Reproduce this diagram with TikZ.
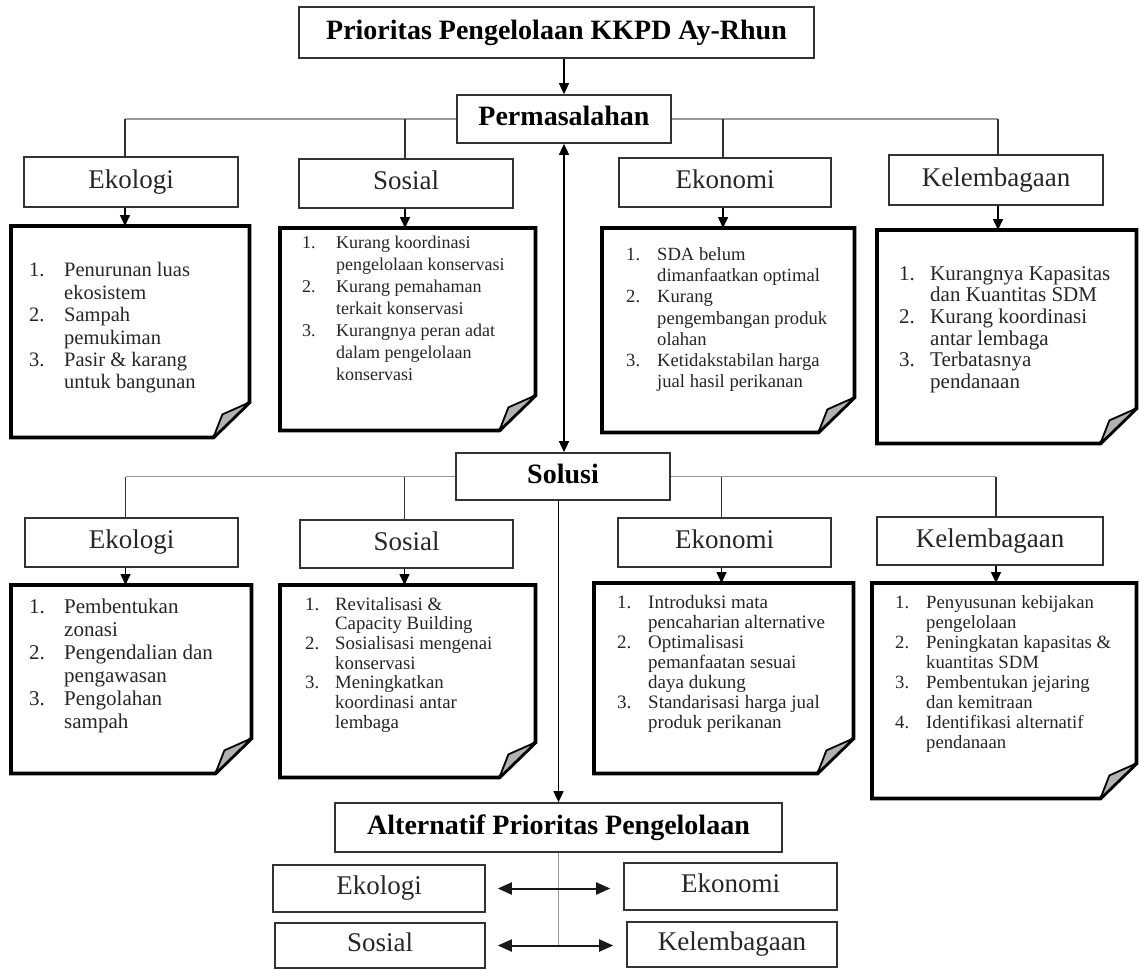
\documentclass[tikz,border=0pt]{standalone}
\usepackage{fontspec}
\setmainfont{Liberation Serif}
\usetikzlibrary{arrows.meta}
\newcommand{\foldnote}[1]{%
 \draw[noteframe] (#1.north west) -- (#1.north east) -- ([yshift=35pt]#1.south east) -- ([xshift=-36pt]#1.south east) -- (#1.south west) -- cycle;
 \draw[curl] ([xshift=-36pt]#1.south east) -- ([xshift=-27pt,yshift=23pt]#1.south east) -- ([yshift=35pt]#1.south east) -- cycle;}
\begin{document}
\begin{tikzpicture}[x=1pt,y=-1pt,
  hd/.style={draw=black!80, line width=1.7pt, font=\fontsize{28}{30}\selectfont\bfseries, inner sep=0, fill=white, text height=19.6pt, text depth=6.2pt},
  cat/.style={draw=black!80, line width=1.6pt, font=\fontsize{27}{30}\selectfont, text=black!85, inner sep=0, fill=white, text height=18.9pt, text depth=6pt},
  hline/.style={draw=black!40, line width=1.6pt},
  vline/.style={draw=black!80, line width=1.6pt},
  arr/.style={draw=black, line width=1.6pt, -{Triangle[length=11pt,width=10pt]}},
  darr/.style={draw=black, line width=1.6pt, {Triangle[length=11pt,width=10pt]}-{Triangle[length=11pt,width=10pt]}},
  barr/.style={draw=black!90, line width=2pt, {Triangle[length=14pt,width=12pt]}-{Triangle[length=14pt,width=12pt]}},
  noteframe/.style={draw=black, line width=3.8pt, line join=miter, fill=white},
  curl/.style={draw=black, line width=1.8pt, fill=black!30, line join=round},
  nb/.style={inner sep=0, anchor=north west},
  nt/.style={anchor=north west, inner sep=0, text=black!85, align=left},
]
\useasboundingbox (0,0) rectangle (1139,969);
\fill[white] (0,0) rectangle (1139,969);

% headings
\node[hd, minimum width=515pt, minimum height=51pt] (title) at (556.5,32.5) {Prioritas Pengelolaan KKPD Ay-Rhun};
\node[hd, minimum width=214pt, minimum height=48pt] (permas) at (564,119) {Permasalahan};
\node[hd, minimum width=214pt, minimum height=47pt] (solusi) at (563,476.5) {Solusi};
\node[hd, minimum width=447pt, minimum height=49pt] (alt) at (558.5,827.5) {Alternatif Prioritas Pengelolaan};

% row 1 categories
\node[cat, minimum width=214pt, minimum height=50pt] (e1) at (131,182) {Ekologi};
\node[cat, minimum width=214pt, minimum height=49pt] (s1) at (406,183.5) {Sosial};
\node[cat, minimum width=212pt, minimum height=49pt] (c1) at (725,182.5) {Ekonomi};
\node[cat, minimum width=214pt, minimum height=50pt] (k1) at (996,180) {Kelembagaan};

% row 2 categories
\node[cat, minimum width=213pt, minimum height=49pt] (e2) at (131.5,542.5) {Ekologi};
\node[cat, minimum width=213pt, minimum height=48pt] (s2) at (406.5,544) {Sosial};
\node[cat, minimum width=213pt, minimum height=49pt] (c2) at (724.5,542.5) {Ekonomi};
\node[cat, minimum width=226pt, minimum height=48pt] (k2) at (990,541) {Kelembagaan};

% bottom boxes
\node[cat, minimum width=212pt, minimum height=47pt] (e3) at (379,888.5) {Ekologi};
\node[cat, minimum width=210pt, minimum height=45pt] (s3) at (380,945.5) {Sosial};
\node[cat, minimum width=213pt, minimum height=47pt] (c3) at (730.5,886.5) {Ekonomi};
\node[cat, minimum width=210pt, minimum height=45pt] (k3) at (732,944.5) {Kelembagaan};

% note frames
\node[nb, minimum width=238pt, minimum height=211pt] (ne1) at (11,226) {};
\node[nb, minimum width=255pt, minimum height=202pt] (ns1) at (280,228) {};
\node[nb, minimum width=252pt, minimum height=204pt] (nc1) at (602,228) {};
\node[nb, minimum width=259pt, minimum height=213pt] (nk1) at (877,230) {};
\node[nb, minimum width=240pt, minimum height=188pt] (ne2) at (11,585) {};
\node[nb, minimum width=255pt, minimum height=192pt] (ns2) at (280,585) {};
\node[nb, minimum width=259pt, minimum height=190pt] (nc2) at (594,583) {};
\node[nb, minimum width=264pt, minimum height=215pt] (nk2) at (872,583) {};
\foldnote{ne1}\foldnote{ns1}\foldnote{nc1}\foldnote{nk1}
\foldnote{ne2}\foldnote{ns2}\foldnote{nc2}\foldnote{nk2}

% note texts
\node[nt, font=\fontsize{20.5}{22.4}\selectfont] (te1) at ([xshift=18pt,yshift=-35pt]ne1.north west)
 {\begin{tabular}{@{}p{35pt}@{}l@{}}1.&Penurunan luas\\&ekosistem\\2.&Sampah\\&pemukiman\\3.&Pasir \& karang\\&untuk bangunan\end{tabular}};
\node[nt, font=\fontsize{18}{22}\selectfont] (ts1) at ([xshift=22pt,yshift=-5pt]ns1.north west)
 {\begin{tabular}{@{}p{34pt}@{}l@{}}1.&Kurang koordinasi\\&pengelolaan konservasi\\2.&Kurang pemahaman\\&terkait konservasi\\3.&Kurangnya peran adat\\&dalam pengelolaan\\&konservasi\end{tabular}};
\node[nt, font=\fontsize{18.6}{21.3}\selectfont] (tc1) at ([xshift=24pt,yshift=-17pt]nc1.north west)
 {\begin{tabular}{@{}p{31pt}@{}l@{}}1.&SDA belum\\&dimanfaatkan optimal\\2.&Kurang\\&pengembangan produk\\&olahan\\3.&Ketidakstabilan harga\\&jual hasil perikanan\end{tabular}};
\node[nt, font=\fontsize{21}{21.6}\selectfont] (tk1) at ([xshift=22pt,yshift=-35pt]nk1.north west)
 {\begin{tabular}{@{}p{31pt}@{}l@{}}1.&Kurangnya Kapasitas\\&dan Kuantitas SDM\\2.&Kurang koordinasi\\&antar lembaga\\3.&Terbatasnya\\&pendanaan\end{tabular}};
\node[nt, font=\fontsize{21}{23}\selectfont] (te2) at ([xshift=18pt,yshift=-12pt]ne2.north west)
 {\begin{tabular}{@{}p{35pt}@{}l@{}}1.&Pembentukan\\&zonasi\\2.&Pengendalian dan\\&pengawasan\\3.&Pengolahan\\&sampah\end{tabular}};
\node[nt, font=\fontsize{18.8}{19.7}\selectfont] (ts2) at ([xshift=25pt,yshift=-11pt]ns2.north west)
 {\begin{tabular}{@{}p{30pt}@{}l@{}}1.&Revitalisasi \&\\&Capacity Building\\2.&Sosialisasi mengenai\\&konservasi\\3.&Meningkatkan\\&koordinasi antar\\&lembaga\end{tabular}};
\node[nt, font=\fontsize{19}{20}\selectfont] (tc2) at ([xshift=23pt,yshift=-11pt]nc2.north west)
 {\begin{tabular}{@{}p{31pt}@{}l@{}}1.&Introduksi mata\\&pencaharian alternative\\2.&Optimalisasi\\&pemanfaatan sesuai\\&daya dukung\\3.&Standarisasi harga jual\\&produk perikanan\end{tabular}};
\node[nt, font=\fontsize{18.7}{20}\selectfont] (tk2) at ([xshift=23pt,yshift=-11pt]nk2.north west)
 {\begin{tabular}{@{}p{31pt}@{}l@{}}1.&Penyusunan kebijakan\\&pengelolaan\\2.&Peningkatan kapasitas \&\\&kuantitas SDM\\3.&Pembentukan jejaring\\&dan kemitraan\\4.&Identifikasi alternatif\\&pendanaan\end{tabular}};

% connector attachment points (slightly off box centres, as in the reference)
\foreach \c/\d in {e1/-6pt,s1/-1pt,c1/-2pt,k1/2pt,e2/-6pt,s2/-2pt,c2/-3pt,k2/6pt} {
  \coordinate (\c t) at ([xshift=\d]\c.north);
  \coordinate (\c b) at ([xshift=\d]\c.south);}

% connectors: top
\draw[arr] (title.south -| permas.north) -- (permas.north);
\draw[hline] (permas.west) -- (permas.west -| e1t);
\draw[hline] (permas.east) -- (permas.east -| k1t);
\foreach \c/\n in {e1/ne1,s1/ns1,c1/nc1,k1/nk1} {
  \draw[vline] (permas.west -| \c t) -- (\c t);
  \draw[arr] (\c b) -- (\c b |- \n.north);}
\draw[darr] (permas.south) -- (permas.south |- solusi.north);

% connectors: solusi
\draw[hline] (solusi.west) -- (solusi.west -| e2t);
\draw[hline] (solusi.east) -- (solusi.east -| k2t);
\foreach \c/\n in {e2/ne2,s2/ns2,c2/nc2,k2/nk2} {
  \draw[vline] (solusi.west -| \c t) -- (\c t);
  \draw[arr] (\c b) -- (\c b |- \n.north);}
\draw[arr] (alt.north |- solusi.south) -- (alt.north);

% bottom
\draw[hline] (alt.south) -- (alt.south |- s3.east);
\draw[barr, shorten <=12pt, shorten >=13pt] (e3.east) -- (e3.east -| c3.west);
\draw[barr, shorten <=12pt, shorten >=13pt] (s3.east) -- (s3.east -| k3.west);
\end{tikzpicture}
\end{document}
